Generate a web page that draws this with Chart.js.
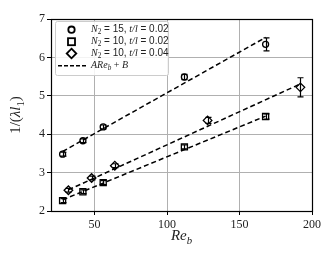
<!DOCTYPE html>
<html>
<head>
<meta charset="utf-8">
<script src="https://cdn.jsdelivr.net/npm/chart.js@4"></script>
<style>
  html, body { margin: 0; padding: 0; background: #fff; }
</style>
</head>
<body>
<canvas id="myChart" width="335" height="268"></canvas>
<script>
// values
var reCircle = [28, 42, 56, 112, 168];
var invCircle = [3.48, 3.83, 4.19, 5.49, 6.34];
var errCircle = [0.05, 0.05, 0.05, 0.07, 0.17];

var reSquare = [28, 42, 56, 112, 168];
var invSquare = [2.27, 2.50, 2.74, 3.67, 4.46];
var errSquare = [0.05, 0.05, 0.05, 0.05, 0.07];

var reDiamond = [32, 48, 64, 128, 192];
var invDiamond = [2.54, 2.86, 3.18, 4.36, 5.22];
var errDiamond = [0.05, 0.05, 0.05, 0.08, 0.25];

// fitted lines A*Re_b + B (end points)
var fitCircleX = [28, 168], fitCircleY = [3.55, 6.52];
var fitSquareX = [28, 168], fitSquareY = [2.29, 4.47];
var fitDiamondX = [32, 192], fitDiamondY = [2.55, 5.31];

var xTicks = [50, 100, 150, 200];
var yTicks = [2, 3, 4, 5, 6, 7];

var seriesLabels = ['N2 = 15, t/l = 0.02', 'N2 = 10, t/l = 0.02', 'N2 = 10, t/l = 0.04', 'ARe_b + B'];

function pts(xs, ys) {
    return xs.map(function (x, i) { return { x: x, y: ys[i] }; });
}

var SERIF = '"Liberation Serif", "DejaVu Serif", serif';
var SANS = '"Liberation Sans", "DejaVu Sans", sans-serif';

// draw a run of text pieces (italic / subscript) starting at x
function richText(ctx, parts, x, y, size) {
    parts.forEach(function (p) {
        var fs = p.sub ? size * 0.72 : size;
        var fam = p.sans ? SANS : SERIF;
        ctx.font = (p.it ? 'italic ' : '') + fs + 'px ' + fam;
        ctx.fillText(p.t, x, y + (p.sub ? size * 0.25 : 0));
        x += ctx.measureText(p.t).width;
    });
    return x;
}
function richWidth(ctx, parts, size) {
    var w = 0;
    parts.forEach(function (p) {
        var fs = p.sub ? size * 0.72 : size;
        ctx.font = (p.it ? 'italic ' : '') + fs + 'px ' + (p.sans ? SANS : SERIF);
        w += ctx.measureText(p.t).width;
    });
    return w;
}

var errSets = [
    { x: reCircle, y: invCircle, e: errCircle },
    { x: reSquare, y: invSquare, e: errSquare },
    { x: reDiamond, y: invDiamond, e: errDiamond }
];

var extras = {
    id: 'extras',
    afterDatasetsDraw: function (chart) {
        var ctx = chart.ctx, xs = chart.scales.x, ys = chart.scales.y;
        ctx.save();
        ctx.strokeStyle = '#000';
        ctx.lineWidth = 1.2;
        errSets.forEach(function (s) {
            for (var i = 0; i < s.x.length; i++) {
                var px = Math.round(xs.getPixelForValue(s.x[i])) + 0.5;
                var top = ys.getPixelForValue(s.y[i] + s.e[i]);
                var bot = ys.getPixelForValue(s.y[i] - s.e[i]);
                ctx.beginPath();
                ctx.moveTo(px, top); ctx.lineTo(px, bot);
                ctx.moveTo(px - 3, top); ctx.lineTo(px + 3, top);
                ctx.moveTo(px - 3, bot); ctx.lineTo(px + 3, bot);
                ctx.stroke();
            }
        });
        ctx.restore();
    },
    afterDraw: function (chart) {
        var ctx = chart.ctx, a = chart.chartArea;
        ctx.save();
        // frame
        ctx.strokeStyle = '#000';
        ctx.lineWidth = 1.2;
        ctx.strokeRect(Math.round(a.left) + 0.5, Math.round(a.top) + 0.5,
            Math.round(a.right - a.left), Math.round(a.bottom - a.top));

        // legend box
        var lx = a.left + 4, ly = a.top + 2, lw = 113, lh = 54;
        ctx.fillStyle = 'rgba(255,255,255,0.85)';
        ctx.strokeStyle = '#cccccc';
        ctx.lineWidth = 1;
        ctx.beginPath();
        ctx.roundRect(lx + 0.5, ly + 0.5, lw, lh, 2);
        ctx.fill();
        ctx.stroke();

        var mx = 71.5, tx = 91;
        var rows = [29.7, 41.7, 53.5, 65.7];
        ctx.strokeStyle = '#000';
        ctx.lineWidth = 1.8;
        ctx.beginPath(); ctx.arc(mx, rows[0], 3.2, 0, Math.PI * 2); ctx.stroke();
        ctx.strokeRect(mx - 3.5, rows[1] - 3.5, 7, 7);
        ctx.beginPath();
        ctx.moveTo(mx, rows[2] - 4.8); ctx.lineTo(mx + 4.8, rows[2]);
        ctx.lineTo(mx, rows[2] + 4.8); ctx.lineTo(mx - 4.8, rows[2]); ctx.closePath();
        ctx.stroke();
        ctx.lineWidth = 1.6;
        ctx.setLineDash([4, 2]);
        ctx.beginPath(); ctx.moveTo(58, rows[3]); ctx.lineTo(86, rows[3]); ctx.stroke();
        ctx.setLineDash([]);

        ctx.fillStyle = '#222';
        ctx.textBaseline = 'middle';
        ctx.textAlign = 'left';
        var fsz = 10;
        var legendParts = [
            [{ t: 'N', it: true }, { t: '2', sub: true }, { t: ' = 15, ', sans: true }, { t: 't/l', it: true }, { t: ' = 0.02', sans: true }],
            [{ t: 'N', it: true }, { t: '2', sub: true }, { t: ' = 10, ', sans: true }, { t: 't/l', it: true }, { t: ' = 0.02', sans: true }],
            [{ t: 'N', it: true }, { t: '2', sub: true }, { t: ' = 10, ', sans: true }, { t: 't/l', it: true }, { t: ' = 0.04', sans: true }],
            [{ t: 'ARe', it: true }, { t: 'b', it: true, sub: true }, { t: ' + ' }, { t: 'B', it: true }]
        ];
        legendParts.forEach(function (p, i) { richText(ctx, p, tx, rows[i], fsz); });

        // x axis title
        var xt = [{ t: 'Re', it: true }, { t: 'b', it: true, sub: true }];
        ctx.textBaseline = 'alphabetic';
        var w = richWidth(ctx, xt, 15);
        richText(ctx, xt, (a.left + a.right) / 2 - w / 2, 240, 15);

        // y axis title
        var yt = [{ t: '1/(' }, { t: 'λl', it: true }, { t: '1', sub: true }, { t: ')' }];
        var wy = richWidth(ctx, yt, 15);
        ctx.translate(20, (a.top + a.bottom) / 2);
        ctx.rotate(-Math.PI / 2);
        richText(ctx, yt, -wy / 2, 0, 15);
        ctx.restore();
    }
};

var ctx = document.getElementById('myChart').getContext('2d');
var myChart = new Chart(ctx, {
    type: 'scatter',
    data: {
        datasets: [{
            label: seriesLabels[0],
            data: pts(reCircle, invCircle),
            pointStyle: 'circle',
            pointRadius: 3,
            borderColor: '#000',
            backgroundColor: 'rgba(0,0,0,0)',
            borderWidth: 1.3,
            showLine: false
        }, {
            label: seriesLabels[1],
            data: pts(reSquare, invSquare),
            pointStyle: 'rect',
            pointRadius: 4.3,
            borderColor: '#000',
            backgroundColor: 'rgba(0,0,0,0)',
            borderWidth: 1.3,
            showLine: false
        }, {
            label: seriesLabels[2],
            data: pts(reDiamond, invDiamond),
            pointStyle: 'rectRot',
            pointRadius: 4.3,
            borderColor: '#000',
            backgroundColor: 'rgba(0,0,0,0)',
            borderWidth: 1.3,
            showLine: false
        }, {
            label: seriesLabels[3],
            data: pts(fitCircleX, fitCircleY),
            showLine: true,
            pointRadius: 0,
            borderColor: '#000',
            borderWidth: 1.5,
            borderDash: [5, 3]
        }, {
            label: seriesLabels[3],
            data: pts(fitSquareX, fitSquareY),
            showLine: true,
            pointRadius: 0,
            borderColor: '#000',
            borderWidth: 1.5,
            borderDash: [5, 3]
        }, {
            label: seriesLabels[3],
            data: pts(fitDiamondX, fitDiamondY),
            showLine: true,
            pointRadius: 0,
            borderColor: '#000',
            borderWidth: 1.5,
            borderDash: [5, 3]
        }]
    },
    options: {
        responsive: false,
        animation: false,
        layout: { padding: { top: 19, right: 23, left: 0, bottom: 0 } },
        plugins: {
            legend: { display: false },
            tooltip: { enabled: false }
        },
        scales: {
            x: {
                type: 'linear',
                min: 20,
                max: 200,
                afterBuildTicks: function (s) { s.ticks = xTicks.map(function (v) { return { value: v }; }); },
                afterFit: function (s) { s.height = 57; },
                grid: { color: '#b0b0b0', lineWidth: 1, tickColor: '#000', tickLength: 4 },
                border: { display: false },
                ticks: { color: '#222', padding: 3, font: { family: SERIF, size: 12 } }
            },
            y: {
                type: 'linear',
                min: 2,
                max: 7,
                afterBuildTicks: function (s) { s.ticks = yTicks.map(function (v) { return { value: v }; }); },
                afterFit: function (s) { s.width = 51; },
                grid: { color: '#b0b0b0', lineWidth: 1, tickColor: '#000', tickLength: 4 },
                border: { display: false },
                ticks: { color: '#222', padding: 2, font: { family: SERIF, size: 12 } }
            }
        }
    },
    plugins: [extras]
});
</script>
</body>
</html>
